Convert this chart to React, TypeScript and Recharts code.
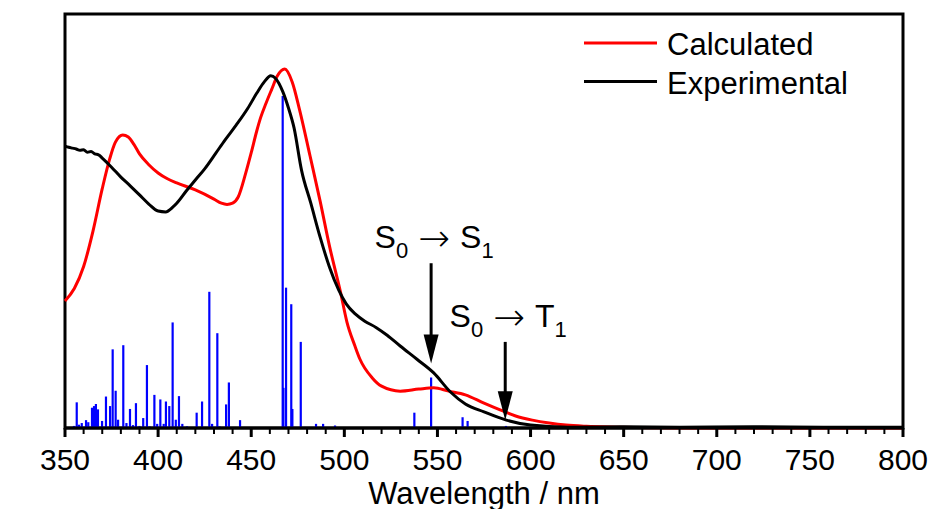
import {
  ComposedChart, Line, XAxis, YAxis, ReferenceLine, ReferenceArea, Legend,
} from 'recharts'

const FONT = '"Liberation Sans", Arial, sans-serif'

// calculated spectrum (red)
const CALC_NM = [350, 355, 360, 365, 370, 374, 377, 381, 384, 387, 390, 395, 400, 405, 410, 420, 430, 434, 437, 440, 443, 447, 450, 453, 455, 458, 461, 464, 468, 472, 476, 481.6, 487, 492, 498, 501.4, 505.7, 508.4, 515, 520, 530, 540, 548, 556, 565, 575, 584, 592, 601, 610, 619, 630, 646, 670, 700, 800]
const CALC_ABS = [0.307, 0.337, 0.39, 0.475, 0.578, 0.65, 0.69, 0.708, 0.703, 0.685, 0.662, 0.636, 0.616, 0.602, 0.592, 0.575, 0.553, 0.543, 0.54, 0.543, 0.558, 0.615, 0.665, 0.718, 0.749, 0.785, 0.818, 0.85, 0.867, 0.836, 0.768, 0.657, 0.548, 0.44, 0.327, 0.256, 0.198, 0.166, 0.121, 0.101, 0.089, 0.094, 0.097, 0.089, 0.08, 0.06, 0.043, 0.029, 0.019, 0.012, 0.007, 0.004, 0.002, 0.0005, 0, 0]

// experimental spectrum (black)
const EXP_NM = [350, 352, 354, 356, 358, 360, 362, 364, 366, 368, 370, 375, 380, 385, 390, 395, 400, 404, 408, 410, 415, 420, 425, 431, 436, 442, 448, 453, 457, 460.5, 463, 467, 470, 473, 477, 482, 487, 492, 497, 501, 506, 511, 517, 523, 530, 539, 548, 557, 565, 575, 587, 600, 620, 650, 680, 720, 760, 800]
const EXP_ABS = [0.681, 0.678, 0.676, 0.674, 0.671, 0.672, 0.666, 0.668, 0.662, 0.66, 0.652, 0.63, 0.606, 0.585, 0.563, 0.541, 0.524, 0.522, 0.534, 0.543, 0.572, 0.599, 0.626, 0.664, 0.696, 0.732, 0.771, 0.809, 0.836, 0.851, 0.845, 0.812, 0.773, 0.725, 0.623, 0.543, 0.461, 0.389, 0.333, 0.3, 0.275, 0.258, 0.243, 0.224, 0.198, 0.166, 0.133, 0.087, 0.058, 0.039, 0.019, 0.007, 0.002, 0.003, 0.002, 0.003, 0.002, 0.002]

// oscillator strengths (blue sticks)
const STICK_NM = [354.8, 356.3, 357.5, 359, 361.3, 362.5, 364.5, 365.6, 366.6, 367.7, 369.9, 372, 374.2, 375.6, 377.2, 378.5, 381.3, 383, 384.9, 386.5, 388.1, 390, 392, 394, 395.5, 398, 399.5, 401.2, 403, 404.2, 406, 407.8, 409.5, 411.2, 413, 415.5, 420.7, 423.6, 427.5, 429, 431.8, 433, 436.5, 438, 444, 452.5, 466.9, 467.3, 468.7, 471.5, 472.1, 476.6, 484.8, 488.6, 495, 537.6, 546.6, 563.5, 566.2, 586.8]
const STICK_F = [0.005, 0.062, 0.008, 0.012, 0.019, 0.014, 0.049, 0.053, 0.058, 0.045, 0.017, 0.076, 0.053, 0.19, 0.09, 0.02, 0.2, 0.012, 0.046, 0.007, 0.06, 0.005, 0.024, 0.152, 0.004, 0.08, 0.01, 0.069, 0.01, 0.064, 0.053, 0.255, 0.02, 0.077, 0.01, 0.004, 0.037, 0.064, 0.329, 0.01, 0.229, 0.004, 0.057, 0.11, 0.019, 0.002, 0.802, 0.097, 0.339, 0.299, 0.046, 0.208, 0.01, 0.01, 0.006, 0.037, 0.122, 0.026, 0.017, 0.005]

// transition arrows
const ARROW_NM = [546.6, 586.4]
const ARROW_TOP = [0.398, 0.208]
const ARROW_TIP = [0.156, 0.019]
const ARROW_TO = ['S', 'T']

const ALL_TICKS = [350, 360, 370, 380, 390, 400, 410, 420, 430, 440, 450, 460, 470, 480, 490, 500, 510, 520, 530, 540, 550, 560, 570, 580, 590, 600, 610, 620, 630, 640, 650, 660, 670, 680, 690, 700, 710, 720, 730, 740, 750, 760, 770, 780, 790, 800]
const MAJOR_TICKS = [350, 400, 450, 500, 550, 600, 650, 700, 750, 800]

const LEGEND_NAMES = ['Calculated', 'Experimental']
const LEGEND_COLORS = ['#ff0000', '#000000']

const calcData = CALC_NM.map((x, i) => ({ x, y: CALC_ABS[i] }))
const expData = EXP_NM.map((x, i) => ({ x, y: EXP_ABS[i] }))

function Tick({ x, y, payload }: any) {
  const major = MAJOR_TICKS.includes(payload.value)
  return (
    <g>
      <line x1={x} x2={x} y1={y} y2={y + (major ? 9 : 6)} stroke="#000" strokeWidth={major ? 3 : 2} />
      {major && (
        <text x={x} y={y + 42} textAnchor="middle" fontSize={30} fontFamily={FONT} fill="#000">
          {payload.value}
        </text>
      )}
    </g>
  )
}

const arrowShape = (to: string) => (p: any) => {
  const { x1, y1, x2, y2 } = p
  const head = 29
  const half = 7.5
  return (
    <g>
      <line x1={x1} y1={y1} x2={x2} y2={y2 - head + 2} stroke="#000" strokeWidth={3} />
      <polygon points={`${x2 - half},${y2 - head} ${x2 + half},${y2 - head} ${x2},${y2}`} fill="#000" />
      <text x={x1 + 3} y={y1 - 15} textAnchor="middle" fontSize={32} fontFamily={FONT} fill="#000">
        S<tspan fontSize={22} dy={10}>0</tspan>
        <tspan dx={10} dy={-7} fontSize={38} fontWeight={200} fontFamily='"DejaVu Sans", sans-serif'>{'\u2192'}</tspan>
        <tspan dx={10} dy={-3}>{to}</tspan>
        <tspan fontSize={22} dy={10}>1</tspan>
      </text>
    </g>
  )
}

function LegendBox() {
  return (
    <svg width={290} height={90}>
      {LEGEND_NAMES.map((name, i) => (
        <g key={name}>
          <line x1={0} x2={73} y1={23 + i * 38.5} y2={23 + i * 38.5} stroke={LEGEND_COLORS[i]} strokeWidth={3} />
          <text x={83} y={35 + i * 38.5} fontSize={31} fontFamily={FONT} fill="#000">{name}</text>
        </g>
      ))}
    </svg>
  )
}

export default function App() {
  return (
    <div style={{ position: 'absolute', left: 0, top: 0, background: '#fff' }}>
      <ComposedChart width={931} height={509} margin={{ top: 14, right: 28, left: 65, bottom: 0 }}>
        <XAxis
          dataKey="x"
          type="number"
          domain={[350, 800]}
          ticks={ALL_TICKS}
          interval={0}
          height={81}
          tickSize={0}
          tickMargin={0}
          tickLine={false}
          tick={<Tick />}
          axisLine={{ stroke: '#000', strokeWidth: 3 }}
          label={{
            content: ({ viewBox }: any) => (
              <text x={viewBox.x + viewBox.width / 2} y={viewBox.y + viewBox.height - 5} textAnchor="middle" fontSize={31} fontFamily={FONT} fill="#000">
                Wavelength / nm
              </text>
            ),
          }}
        />
        <YAxis
          type="number"
          domain={[0, 1]}
          width={0}
          tick={false}
          tickLine={false}
          axisLine={false}
          label={{
            content: ({ viewBox }: any) => {
              const cx = viewBox.x - 30
              const cy = viewBox.y + viewBox.height / 2
              return (
                <text x={cx} y={cy} transform={`rotate(-90, ${cx}, ${cy})`} textAnchor="middle" fontSize={31} fontFamily={FONT} fill="#000">
                  Normalised absorbance
                </text>
              )
            },
          }}
        />
        <ReferenceArea x1={350} x2={800} y1={0} y2={1} fill="none" fillOpacity={0} stroke="#000" strokeWidth={3} />
        {STICK_NM.map((nm, i) => (
          <ReferenceLine key={'s' + i} segment={[{ x: nm, y: 0 }, { x: nm, y: STICK_F[i] }]} stroke="#0000ff" strokeWidth={2.2} />
        ))}
        <Line data={calcData} dataKey="y" type="monotone" stroke="#ff0000" strokeWidth={3} dot={false} isAnimationActive={false} />
        <Line data={expData} dataKey="y" type="monotone" stroke="#000000" strokeWidth={3} dot={false} isAnimationActive={false} />
        {ARROW_NM.map((nm, i) => (
          <ReferenceLine
            key={'a' + i}
            segment={[{ x: nm, y: ARROW_TOP[i] }, { x: nm, y: ARROW_TIP[i] }]}
            shape={arrowShape(ARROW_TO[i])}
          />
        ))}
        <Legend
          layout="vertical"
          verticalAlign="middle"
          align="center"
          wrapperStyle={{ top: 20, left: 584, width: 290 }}
          content={() => <LegendBox />}
        />
      </ComposedChart>
    </div>
  )
}
